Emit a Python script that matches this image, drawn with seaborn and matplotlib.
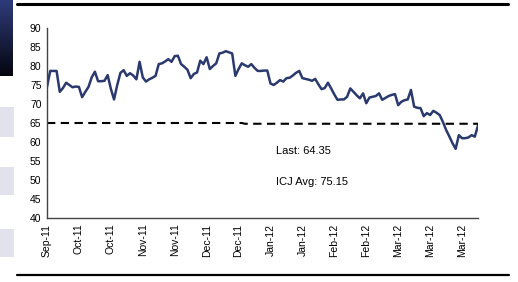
import numpy as np
import pandas as pd
import matplotlib
matplotlib.use("Agg")
import matplotlib.pyplot as plt
import seaborn as sns
from matplotlib.patches import Rectangle
from matplotlib.lines import Line2D

# ---- data ----
tick_labels = ["Sep-11", "Oct-11", "Oct-11", "Nov-11", "Nov-11", "Dec-11", "Dec-11",
               "Jan-12", "Jan-12", "Feb-12", "Feb-12", "Mar-12", "Mar-12", "Mar-12"]
price = [
    74.5, 78.7, 78.7, 78.7, 73.2, 74.2, 75.6, 75.0, 74.4, 74.6,
    74.5, 71.8, 73.2, 74.5, 77.0, 78.5, 76.0, 76.0, 76.1, 77.6,
    74.0, 71.2, 75.0, 78.2, 78.9, 77.4, 78.1, 77.5, 76.5, 81.1,
    77.0, 75.9, 76.5, 76.9, 77.4, 80.5, 80.7, 81.2, 81.8, 81.1,
    82.6, 82.7, 80.5, 79.8, 79.0, 76.8, 77.9, 78.3, 81.4, 80.5,
    82.3, 79.2, 80.0, 80.7, 83.3, 83.5, 83.9, 83.6, 83.3, 77.4,
    79.2, 80.7, 80.2, 79.8, 80.5, 79.5, 78.7, 78.7, 78.8, 78.8,
    75.4, 75.0, 75.6, 76.3, 75.9, 76.8, 76.9, 77.5, 78.2, 78.7,
    76.8, 76.6, 76.4, 76.1, 76.6, 75.2, 73.9, 74.2, 75.6, 74.1,
    72.5, 71.1, 71.2, 71.2, 71.9, 74.1, 73.2, 72.3, 71.5, 72.8,
    70.2, 71.7, 71.9, 72.1, 72.8, 71.1, 71.6, 72.1, 72.4, 72.6,
    69.7, 70.6, 71.0, 71.2, 73.7, 69.3, 69.0, 68.9, 66.8, 67.6,
    67.1, 68.2, 67.7, 67.1, 65.3, 63.2, 61.5, 59.7, 58.2, 61.8,
    61.0, 61.0, 61.2, 61.8, 61.4, 64.35,
]
ref_level = [65.0] * 62 + [64.8] * (len(price) - 62)
last_text = "Last: 64.35"
avg_text = "ICJ Avg: 75.15"

idx = np.arange(len(price))
df = pd.DataFrame({"i": idx, "price": price, "ref": ref_level})

sns.set_theme(style="white")
plt.rcParams["font.family"] = ["Liberation Sans", "DejaVu Sans"]

fig = plt.figure(figsize=(5.18, 2.82), dpi=100)
W, H = 518, 282

ax = fig.add_axes([47 / W, 1 - 218 / H, (478 - 47) / W, (218 - 28) / H])
sns.lineplot(data=df, x="i", y="price", ax=ax, color="#2B3A6E", linewidth=1.8)
sns.lineplot(data=df, x="i", y="ref", ax=ax, color="black", linewidth=1.5,
             linestyle=(0, (4, 2.6)))

ax.set_xlim(0, len(price) - 1)
ax.set_ylim(40, 90)
ax.set_yticks(range(40, 91, 5))
ax.set_xticks(np.arange(0, len(tick_labels) * 10, 10))
ax.set_xticklabels(tick_labels, rotation=90)
ax.tick_params(axis="both", labelsize=7.5, colors="black", length=0, pad=4)
ax.set_xlabel("")
ax.set_ylabel("")
for s in ["top", "right"]:
    ax.spines[s].set_visible(False)
for s in ["left", "bottom"]:
    ax.spines[s].set_color("#444444")
    ax.spines[s].set_linewidth(1.0)

ax.text(0.531, 0.355, last_text, transform=ax.transAxes, fontsize=8, color="black",
        va="center", ha="left")
ax.text(0.531, 0.19, avg_text, transform=ax.transAxes, fontsize=8, color="black",
        va="center", ha="left")

# slide decorations
fig.add_artist(Line2D([17 / W, 508 / W], [1 - 4 / H, 1 - 4 / H], color="black", lw=2.2))
fig.add_artist(Line2D([17 / W, 509 / W], [1 - 275 / H, 1 - 275 / H], color="black", lw=1.6))
for y0, y1 in [(107, 137), (167, 195), (229, 257)]:
    fig.add_artist(Rectangle((0, 1 - y1 / H), 14 / W, (y1 - y0) / H,
                             facecolor="#E2E2EE", edgecolor="none"))
gax = fig.add_axes([0, 1 - 76 / H, 13 / W, 76 / H])
grad = np.linspace(0, 1, 100).reshape(-1, 1)
from matplotlib.colors import LinearSegmentedColormap
cm = LinearSegmentedColormap.from_list("g", ["#2E3B7A", "#05060F"])
gax.imshow(grad, aspect="auto", cmap=cm)
gax.axis("off")

fig.savefig("out.png", dpi=100)
